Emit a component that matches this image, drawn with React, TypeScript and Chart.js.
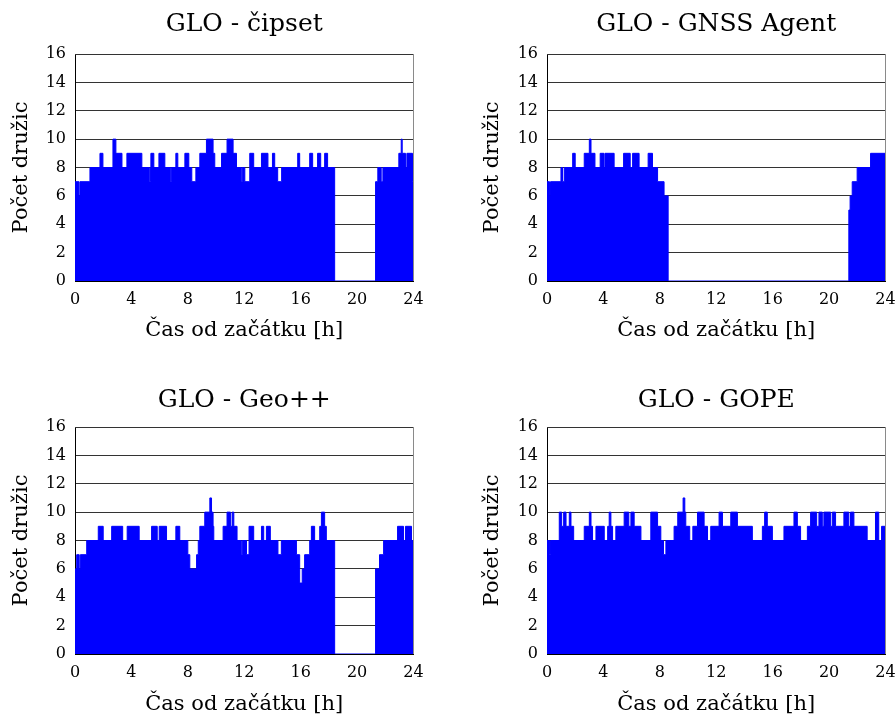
import React, { useEffect, useRef } from "react";
import { Chart, registerables } from "chart.js";

Chart.register(...registerables);

// ---- data: change points (hour where a new satellite count starts) ----
const HOURS_CIPSET = [0, 0.28, 0.35, 1.06, 1.77, 1.98, 2.69, 2.9, 3.33, 3.68, 4.74, 5.27, 5.35, 5.38, 5.59, 5.95, 6.37, 6.76, 6.83, 7.15, 7.29, 7.79, 8.07, 8.28, 8.57, 8.85, 9.32, 9.79, 9.91, 10.39, 10.78, 11.21, 11.45, 11.79, 11.86, 12.04, 12.39, 12.67, 13.22, 13.68, 14.0, 14.16, 14.37, 14.65, 15.79, 15.93, 16.64, 16.85, 17.2, 17.42, 17.7, 17.91, 18.41, 21.31, 21.47, 21.71, 21.83, 22.96, 23.13, 23.2, 23.43, 23.53, 23.93];
const COUNT_CIPSET = [7, 6, 7, 8, 9, 8, 10, 9, 8, 9, 8, 7, 8, 9, 8, 9, 8, 7, 8, 9, 8, 9, 8, 7, 8, 9, 10, 9, 8, 9, 10, 9, 8, 7, 8, 7, 9, 8, 9, 8, 9, 8, 7, 8, 9, 8, 9, 8, 9, 8, 9, 8, 0, 7, 8, 7, 8, 9, 10, 9, 8, 9, 7];

const HOURS_AGENT = [0, 0.18, 0.25, 0.99, 1.1, 1.22, 1.82, 2.0, 2.64, 3.0, 3.12, 3.4, 3.77, 4.04, 4.11, 4.76, 5.43, 5.9, 6.07, 6.53, 7.17, 7.48, 7.84, 8.3, 8.59, 21.4, 21.49, 21.64, 21.99, 22.94];
const COUNT_AGENT = [7, 6, 7, 8, 7, 8, 9, 8, 9, 10, 9, 8, 9, 8, 9, 8, 9, 8, 9, 8, 9, 8, 7, 6, 0, 5, 6, 7, 8, 9];

const HOURS_GEO = [0, 0.12, 0.3, 0.38, 0.83, 1.65, 2.0, 2.6, 3.38, 3.7, 4.55, 5.43, 5.83, 5.97, 6.49, 7.15, 7.43, 8.0, 8.14, 8.62, 8.74, 8.85, 9.2, 9.56, 9.68, 9.79, 9.84, 10.5, 10.78, 11.02, 11.14, 11.26, 11.49, 11.79, 11.86, 12.16, 12.34, 12.67, 13.22, 13.38, 13.57, 13.85, 14.39, 14.63, 15.7, 15.93, 16.11, 16.28, 16.64, 16.76, 16.99, 17.35, 17.47, 17.7, 17.82, 18.41, 21.31, 21.59, 21.88, 22.87, 23.29, 23.43, 23.86];
const COUNT_GEO = [6, 7, 6, 7, 8, 9, 8, 9, 8, 9, 8, 9, 8, 9, 8, 9, 8, 7, 6, 7, 8, 9, 10, 11, 10, 9, 8, 9, 10, 9, 10, 9, 8, 7, 8, 7, 9, 8, 9, 8, 9, 8, 7, 8, 7, 5, 6, 7, 8, 9, 8, 9, 10, 9, 8, 0, 6, 7, 8, 9, 8, 9, 8];

const HOURS_GOPE = [0, 0.18, 0.25, 0.87, 1.04, 1.18, 1.35, 1.58, 1.7, 1.89, 2.64, 3.0, 3.12, 3.23, 3.47, 4.06, 4.3, 4.41, 4.53, 4.65, 4.88, 5.47, 5.8, 5.95, 6.18, 6.66, 7.36, 7.84, 8.07, 8.26, 8.43, 9.01, 9.27, 9.65, 9.77, 9.84, 10.12, 10.34, 10.67, 11.14, 11.38, 11.61, 12.2, 12.44, 13.03, 13.5, 14.56, 15.27, 15.43, 15.62, 15.98, 16.8, 17.51, 17.75, 17.98, 18.46, 18.69, 19.12, 19.28, 19.52, 19.63, 20.11, 20.23, 20.46, 21.05, 21.4, 21.52, 21.76, 22.7, 23.29, 23.52, 23.72];
const COUNT_GOPE = [8, 7, 8, 10, 9, 10, 9, 10, 9, 8, 9, 10, 9, 8, 9, 8, 9, 10, 9, 8, 9, 10, 9, 10, 9, 8, 10, 9, 8, 7, 8, 9, 10, 11, 10, 9, 8, 9, 10, 9, 8, 9, 10, 9, 10, 9, 8, 9, 10, 9, 8, 9, 10, 9, 8, 9, 10, 9, 10, 9, 10, 9, 10, 9, 10, 9, 10, 9, 8, 10, 8, 9];

const TITLES = ["GLO - čipset", "GLO - GNSS Agent", "GLO - Geo++", "GLO - GOPE"];
const X_TITLE = "Čas od začátku [h]";
const Y_TITLE = "Počet družic";
const X_MAX = 24;
const X_STEP = 4;
const Y_MAX = 16;
const Y_STEP = 2;

const FONT = "'DejaVu Serif', 'Liberation Serif', serif";
const BLUE = "#0000ff";

type Panel = {
  title: string;
  hours: number[];
  counts: number[];
  left: number;
  top: number;
  width: number;
  height: number;
  areaLeft: number;
  areaRight: number;
  areaTop: number;
  areaBottom: number;
  titleCenter: number;
  xTitleCenter: number;
  yTitleCenter: number;
};

const frame = {
  id: "frame",
  afterDatasetsDraw(chart: any) {
    const { ctx, chartArea } = chart;
    ctx.save();
    ctx.lineWidth = 1;
    ctx.strokeStyle = "#333333";
    ctx.beginPath();
    ctx.moveTo(chartArea.left, Math.round(chartArea.top) + 0.5);
    ctx.lineTo(chartArea.right, Math.round(chartArea.top) + 0.5);
    ctx.stroke();
    ctx.strokeStyle = "#8a8a8a";
    ctx.beginPath();
    ctx.moveTo(Math.round(chartArea.right) - 0.5, chartArea.top);
    ctx.lineTo(Math.round(chartArea.right) - 0.5, chartArea.bottom);
    ctx.stroke();
    ctx.restore();
  },
};

function PanelChart({ p }: { p: Panel }) {
  const ref = useRef<HTMLCanvasElement | null>(null);
  useEffect(() => {
    if (!ref.current) return;
    const n = Math.min(p.hours.length, p.counts.length);
    const pts = [] as { x: number; y: number }[];
    for (let i = 0; i < n; i++) pts.push({ x: p.hours[i], y: p.counts[i] });
    pts.push({ x: X_MAX, y: p.counts[n - 1] });

    const titleLH = 25 * 1.2;
    const titlePadTop = p.titleCenter - titleLH / 2;
    const titlePadBottom = p.areaTop - titlePadTop - titleLH;
    const axTitleLH = 21 * 1.2;

    const chart = new Chart(ref.current, {
      type: "line",
      data: {
        datasets: [
          {
            data: pts,
            stepped: "before",
            fill: "origin",
            backgroundColor: BLUE,
            borderColor: BLUE,
            borderWidth: 1,
            pointRadius: 0,
            tension: 0,
          },
        ],
      },
      options: {
        animation: false,
        responsive: false,
        events: [],
        layout: { padding: { left: 0, top: 0, right: p.width - p.areaRight, bottom: 0 } },
        plugins: {
          legend: { display: false },
          tooltip: { enabled: false },
          title: {
            display: true,
            text: p.title,
            fullSize: false,
            color: "#000",
            font: { family: FONT, size: 25, weight: "normal", lineHeight: 1.2 },
            padding: { top: titlePadTop, bottom: titlePadBottom },
          },
        },
        scales: {
          x: {
            type: "linear",
            min: 0,
            max: X_MAX,
            grid: { display: false, drawTicks: false },
            border: { display: true, color: "#000", width: 1 },
            ticks: {
              stepSize: X_STEP,
              padding: 9,
              color: "#000",
              maxRotation: 0,
              font: { family: FONT, size: 16, lineHeight: 1.2 },
            },
            title: {
              display: true,
              text: X_TITLE,
              color: "#000",
              font: { family: FONT, size: 21, lineHeight: 1.2 },
              padding: { top: 0, bottom: p.height - p.xTitleCenter - axTitleLH / 2 },
            },
            afterFit: (s: any) => {
              s.height = p.height - p.areaBottom;
              s.paddingLeft = 0;
              s.paddingRight = 0;
            },
          },
          y: {
            type: "linear",
            min: 0,
            max: Y_MAX,
            grid: { display: true, drawTicks: false, color: "#333333", lineWidth: 1 },
            border: { display: true, color: "#000", width: 1 },
            ticks: {
              stepSize: Y_STEP,
              padding: 9,
              color: "#000",
              font: { family: FONT, size: 16, lineHeight: 1.2 },
            },
            title: {
              display: true,
              text: Y_TITLE,
              color: "#000",
              font: { family: FONT, size: 21, lineHeight: 1.2 },
              padding: { top: p.yTitleCenter - axTitleLH / 2, bottom: 0 },
            },
            afterFit: (s: any) => {
              s.width = p.areaLeft;
              s.paddingTop = 0;
              s.paddingBottom = 0;
            },
          },
        },
      },
      plugins: [frame],
    } as any);
    return () => chart.destroy();
  }, [p]);

  return (
    <div style={{ position: "absolute", left: p.left, top: p.top, width: p.width, height: p.height }}>
      <canvas ref={ref} width={p.width} height={p.height} style={{ width: p.width, height: p.height, display: "block" }} />
    </div>
  );
}

const PANELS: Panel[] = [
  { title: TITLES[0], hours: HOURS_CIPSET, counts: COUNT_CIPSET, left: 0, top: 0, width: 447, height: 363, areaLeft: 75, areaRight: 413.5, areaTop: 54, areaBottom: 281, titleCenter: 24, xTitleCenter: 331, yTitleCenter: 22 },
  { title: TITLES[1], hours: HOURS_AGENT, counts: COUNT_AGENT, left: 470, top: 0, width: 425, height: 363, areaLeft: 77, areaRight: 415.5, areaTop: 54, areaBottom: 281, titleCenter: 24, xTitleCenter: 331, yTitleCenter: 23 },
  { title: TITLES[2], hours: HOURS_GEO, counts: COUNT_GEO, left: 0, top: 363, width: 447, height: 363, areaLeft: 75, areaRight: 413.5, areaTop: 64, areaBottom: 291, titleCenter: 37, xTitleCenter: 342, yTitleCenter: 22 },
  { title: TITLES[3], hours: HOURS_GOPE, counts: COUNT_GOPE, left: 470, top: 363, width: 425, height: 363, areaLeft: 77, areaRight: 415.5, areaTop: 64, areaBottom: 291, titleCenter: 37, xTitleCenter: 342, yTitleCenter: 23 },
];

export default function App() {
  return (
    <div style={{ position: "fixed", left: 0, top: 0, width: 895, height: 726, background: "#fff", overflow: "hidden" }}>
      {PANELS.map((p, i) => (
        <PanelChart key={i} p={p} />
      ))}
    </div>
  );
}
